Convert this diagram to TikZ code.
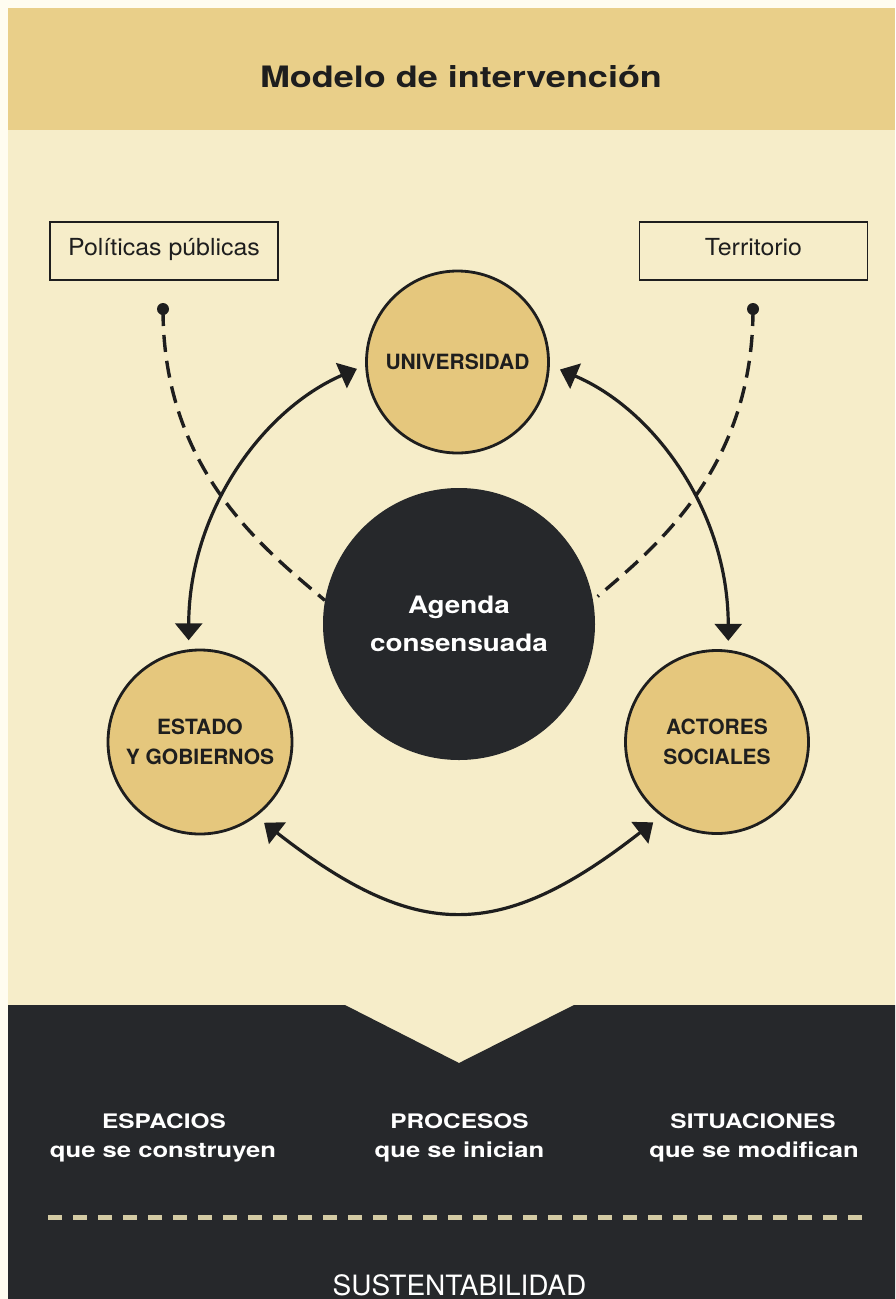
\documentclass[tikz,border=0pt]{standalone}
\usepackage{fontspec}
\setmainfont{TeX Gyre Heros}
\newfontfamily\widefont{TeX Gyre Heros}[FakeStretch=1.22]
\newfontfamily\agendafont{TeX Gyre Heros}[FakeStretch=1.16]
\newfontfamily\boxfont{TeX Gyre Heros}[FakeStretch=1.06]
\usetikzlibrary{arrows.meta}

\definecolor{marginc}{HTML}{FFFCF0}
\definecolor{cream}{HTML}{F6EDC9}
\definecolor{band}{HTML}{E9CF89}
\definecolor{disc}{HTML}{E5C77D}
\definecolor{ink}{HTML}{1E1E1E}
\definecolor{darkc}{HTML}{26282B}
\definecolor{dashtan}{HTML}{D3CAA3}

\tikzset{
  actor/.style={circle, draw=ink, line width=2.8pt, fill=disc, inner sep=0pt,
    minimum size=#1, align=center, text=ink,
    font=\fontsize{21}{30}\selectfont\bfseries},
  agenda/.style={circle, fill=darkc, inner sep=0pt, minimum size=#1, align=center,
    text=white, font=\agendafont\bfseries\fontsize{24}{38}\selectfont},
  labelbox/.style={draw=ink, line width=1.8pt, minimum width=228pt, minimum height=58pt,
    inner sep=0pt, text height=17pt, text depth=9pt, text=ink,
    font=\boxfont\fontsize{23.5}{28}\selectfont},
  link/.style={line width=3.2pt, draw=ink,
    {Triangle[width=27pt,length=17pt]}-{Triangle[width=27pt,length=17pt]}},
  infl/.style={line width=3.4pt, draw=ink, dash pattern=on 17pt off 9pt},
  pin/.style={circle, fill=ink, inner sep=0pt, minimum size=12pt},
  captext/.style={anchor=base, text=white, font=\widefont\bfseries\fontsize{20}{24}\selectfont},
  subtext/.style={anchor=base, text=white, font=\widefont\bfseries\fontsize{21}{27}\selectfont},
  bottomline/.style={line width=5pt, draw=dashtan, dash pattern=on 14pt off 11pt},
}

\begin{document}
\begin{tikzpicture}[x=1pt,y=-1pt]
\useasboundingbox (0,0) rectangle (895,1299);
% backgrounds
\fill[marginc] (0,0) rectangle (895,1299);
\fill[cream] (8,8) rectangle (895,1299);
\fill[band] (8,8) rectangle (895,130);
\fill[darkc] (8,1005) -- (345,1005) -- (459,1063) -- (574,1005) -- (895,1005)
  -- (895,1299) -- (8,1299) -- cycle;

% title
\node[anchor=base, text=ink, font=\widefont\bfseries\fontsize{29.5}{34}\selectfont]
  (title) at (461,87) {Modelo de intervención};

% label boxes and pins
\node[labelbox] (pol) at (164,251) {Políticas públicas};
\node[labelbox] (ter) at (753.5,251) {Territorio};
\node[pin] (d1) at (163,309) {};
\node[pin] (d2) at (753,309) {};

% circles
\node[agenda=272pt] (G) at (459,624) {Agenda\\consensuada};
\node[actor=182pt] (U) at (457.5,362) {UNIVERSIDAD};
\node[actor=184pt] (E) at (200,742) {ESTADO\\Y GOBIERNOS};
\node[actor=183pt] (A) at (717,742) {ACTORES\\SOCIALES};

% dashed influences
\draw[infl] (d1.center) .. controls (163,470) and (264,549) .. (G.170);
\draw[infl, shorten >=6pt] (d2.center) .. controls (753,470) and (653,549) .. (G.10);

% two-way relations
\draw[link, shorten <=9pt, shorten >=9pt] (E.97) .. controls (189,512) and (262,410) .. (U.182);
\draw[link, shorten <=9pt, shorten >=11pt] (A.83) .. controls (728,512) and (655,410) .. (U.-2);
\draw[link, shorten <=10pt, shorten >=10pt] (E.-53) .. controls (417,942) and (500,942) .. (A.233);

% bottom texts
\node[captext] (esp) at (164,1128) {ESPACIOS};
\node[subtext] (esp2) at (163,1157) {que se construyen};
\node[captext] (pro) at (459.5,1128) {PROCESOS};
\node[subtext] (pro2) at (459.5,1157) {que se inician};
\node[captext] (sit) at (753,1128) {SITUACIONES};
\node[subtext] (sit2) at (754,1157) {que se modifican};

\coordinate (bl) at (48,1217);
\coordinate (br) at (868,1217);
\draw[bottomline] (bl) -- (br);

\node[anchor=base, text=white, font=\fontsize{28}{32}\selectfont] (sus) at (459.5,1295) {SUSTENTABILIDAD};
\end{tikzpicture}
\end{document}
